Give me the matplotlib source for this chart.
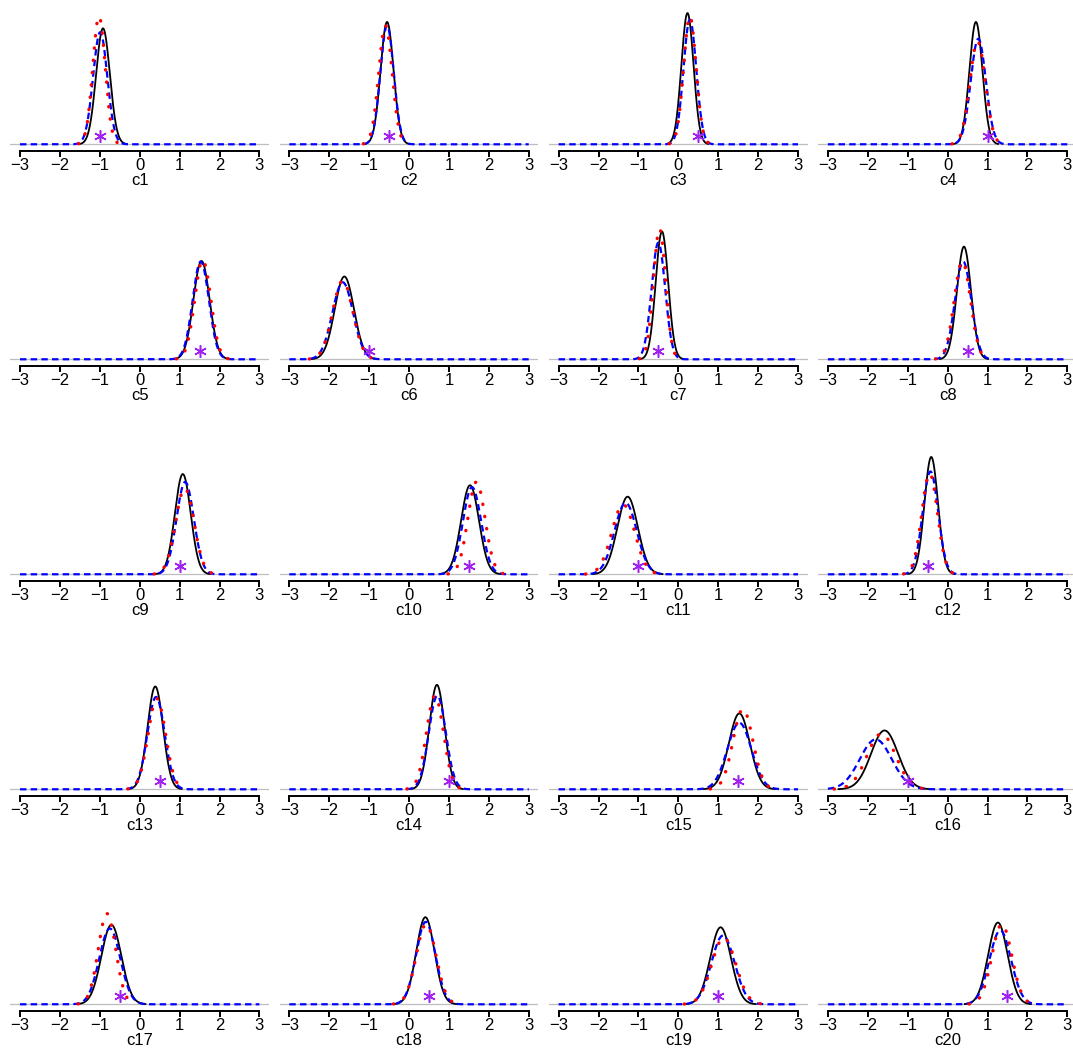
import numpy as np
import matplotlib
matplotlib.use("Agg")
import matplotlib.pyplot as plt

plt.rcParams["font.family"] = ["Liberation Sans", "DejaVu Sans"]

# ---- data -------------------------------------------------------------
labels = ["c1", "c2", "c3", "c4", "c5", "c6", "c7", "c8", "c9", "c10",
          "c11", "c12", "c13", "c14", "c15", "c16", "c17", "c18", "c19", "c20"]

# true parameter values (purple stars)
true_values = [-1.0, -0.5, 0.5, 1.0, 1.5, -1.0, -0.5, 0.5, 1.0, 1.5,
               -1.0, -0.5, 0.5, 1.0, 1.5, -1.0, -0.5, 0.5, 1.0, 1.5]

# density summaries: centre and spread of each curve
black_mean = [-0.92, -0.55, 0.23, 0.71, 1.55, -1.62, -0.41, 0.41, 1.08, 1.53,
              -1.27, -0.41, 0.39, 0.70, 1.53, -1.58, -0.71, 0.41, 1.06, 1.26]
black_sd = [0.172, 0.163, 0.152, 0.163, 0.203, 0.241, 0.156, 0.177, 0.199, 0.224,
            0.257, 0.170, 0.194, 0.191, 0.263, 0.339, 0.251, 0.229, 0.259, 0.244]

red_mean = [-1.02, -0.59, 0.29, 0.75, 1.58, -1.66, -0.47, 0.37, 1.13, 1.69,
            -1.38, -0.45, 0.43, 0.65, 1.62, -1.66, -0.82, 0.43, 1.14, 1.36]
red_sd = [0.156, 0.168, 0.156, 0.194, 0.201, 0.254, 0.153, 0.204, 0.232, 0.216,
          0.286, 0.198, 0.220, 0.213, 0.249, 0.359, 0.220, 0.249, 0.300, 0.249]

blue_mean = [-0.99, -0.55, 0.29, 0.77, 1.53, -1.66, -0.50, 0.39, 1.14, 1.58,
             -1.32, -0.43, 0.41, 0.71, 1.53, -1.80, -0.75, 0.42, 1.12, 1.32]
blue_sd = [0.178, 0.168, 0.160, 0.189, 0.204, 0.259, 0.171, 0.204, 0.216, 0.229,
           0.279, 0.194, 0.216, 0.213, 0.300, 0.400, 0.263, 0.242, 0.290, 0.270]

x_ticks = [-3, -2, -1, 0, 1, 2, 3]


def normal_pdf(x, m, s):
    return np.exp(-0.5 * ((x - m) / s) ** 2) / (s * np.sqrt(2 * np.pi))


# ---- layout (pixels) --------------------------------------------------
W, H = 1073, 1050
fig = plt.figure(figsize=(W / 100, H / 100), dpi=100)
fig.patch.set_facecolor("white")

PX_PER_UNIT = 39.9          # horizontal scale
PX_PER_DENS = 50.0          # vertical scale
COL_STEP, ROW_STEP = 269.3, 215.0

for i, lab in enumerate(labels):
    r, c = divmod(i, 4)
    x_m3 = 20 + COL_STEP * c
    left = x_m3 - 0.24 * PX_PER_UNIT
    width = 6.48 * PX_PER_UNIT
    base = 144.3 + ROW_STEP * r
    bottom = base + 6.4
    top = base - 140
    ax = fig.add_axes([left / W, 1 - bottom / H, width / W, (bottom - top) / H])
    ax.set_xlim(-3.24, 3.24)
    ax.set_ylim(-6.4 / PX_PER_DENS, 140 / PX_PER_DENS)

    ax.axhline(0, color="#BEBEBE", lw=0.9, zorder=1)

    xb = np.linspace(black_mean[i] - 3.4 * black_sd[i], black_mean[i] + 3.4 * black_sd[i], 300)
    ax.plot(xb, normal_pdf(xb, black_mean[i], black_sd[i]), color="black", lw=1.3, zorder=2)

    xg = np.linspace(-3, 3, 600)
    ax.plot(xg, normal_pdf(xg, blue_mean[i], blue_sd[i]), color="#0000FF", lw=1.6,
            linestyle=(0, (2.9, 1.9)), zorder=3)

    xr = np.linspace(red_mean[i] - 3.3 * red_sd[i], red_mean[i] + 3.3 * red_sd[i], 300)
    ax.plot(xr, normal_pdf(xr, red_mean[i], red_sd[i]), color="#FF0000", lw=2.4,
            linestyle=(0, (0.1, 3.6)), dash_capstyle="round", zorder=4)

    ax.plot([true_values[i]], [8.6 / PX_PER_DENS], marker=(6, 2, 0), ms=9, mew=1.1,
            color="#A020F0", linestyle="none", zorder=5)

    for side in ("left", "right", "top"):
        ax.spines[side].set_visible(False)
    ax.spines["bottom"].set_bounds(-3, 3)
    ax.spines["bottom"].set_linewidth(1.4)
    ax.set_xticks(x_ticks)
    ax.set_xticklabels([f"{t}".replace("-", "\u2212") for t in x_ticks])
    ax.tick_params(axis="x", length=4.5, width=1.4, pad=1, labelsize=12)
    ax.set_yticks([])
    ax.patch.set_alpha(0)

    fig.text((x_m3 + 3 * PX_PER_UNIT) / W, 1 - (base + 36) / H, lab,
             ha="center", va="center", fontsize=12)

fig.savefig("out.png", dpi=100)
